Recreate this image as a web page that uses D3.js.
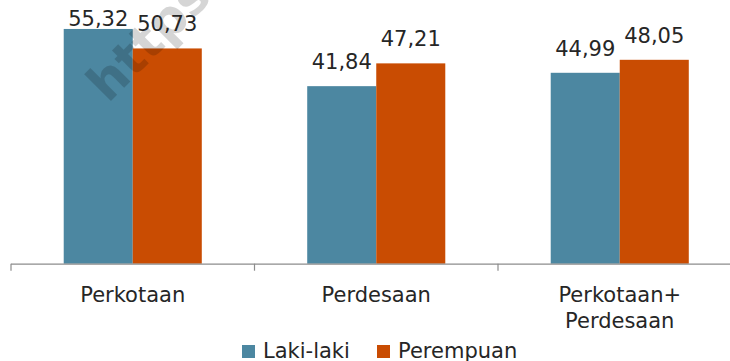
<!DOCTYPE html>
<html><head><meta charset="utf-8">
<script src="https://cdn.jsdelivr.net/npm/d3@7"></script>
<style>
html,body{margin:0;padding:0;background:#fff;overflow:hidden}
text{font-family:"DejaVu Sans",sans-serif;fill:#262626}
</style></head><body>
<svg id="c" width="730" height="361"></svg>
<script>
const categories = [["Perkotaan"], ["Perdesaan"], ["Perkotaan+", "Perdesaan"]];
const series = ["Laki-laki", "Perempuan"];
const lakiLaki = [55.32, 41.84, 44.99];
const perempuan = [50.73, 47.21, 48.05];
const colors = ["#4C87A1", "#C94C02"];

const values = [lakiLaki, perempuan];
const svg = d3.select("#c");
const baseY = 263.7;
const catKeys = categories.map(c => c.join(" "));

const x = d3.scaleBand().domain(catKeys).range([11, 741.5]).paddingInner(0.433).paddingOuter(0.2165);
const xs = d3.scaleBand().domain(series).range([0, x.bandwidth()]);
const y = d3.scaleLinear().domain([0, 60]).range([baseY, 9.1]);
const fmt = v => v.toFixed(2).replace(".", ",");

// bars
series.forEach((s, si) => {
  svg.append("g").selectAll("rect").data(values[si]).join("rect")
    .attr("x", (d, i) => x(catKeys[i]) + xs(s))
    .attr("y", d => y(d))
    .attr("width", xs.bandwidth())
    .attr("height", d => baseY - y(d))
    .attr("fill", colors[si]);
});

// watermark (partly outside the picture, as in the reference)
svg.append("text").text("https://www.bps.go.id")
  .attr("transform", "translate(108,104) rotate(-45)")
  .style("font-size", "50px").style("font-weight", "bold")
  .style("fill", "#000").style("opacity", 0.16);

// value labels
series.forEach((s, si) => {
  svg.append("g").selectAll("text").data(values[si]).join("text")
    .attr("x", (d, i) => x(catKeys[i]) + xs(s) + xs.bandwidth() / 2)
    .attr("y", d => Math.max(y(d) - 17, 26))
    .attr("text-anchor", "middle")
    .style("font-size", "21px")
    .text(d => fmt(d));
});

// axis
const step = x.step();
const axisG = svg.append("g");
axisG.append("line").attr("x1", 11).attr("x2", 741.5).attr("y1", baseY + 0.5).attr("y2", baseY + 0.5)
  .attr("stroke", "#8c8c8c").attr("stroke-width", 1.2);
const bounds = d3.range(categories.length + 1).map(i => 11 + i * step);
axisG.selectAll("line.t").data(bounds).join("line").attr("class", "t")
  .attr("x1", d => d).attr("x2", d => d).attr("y1", baseY).attr("y2", baseY + 7)
  .attr("stroke", "#8c8c8c").attr("stroke-width", 1.2);

categories.forEach((c, i) => {
  const t = svg.append("text").attr("text-anchor", "middle").style("font-size", "21px");
  c.forEach((line, li) => {
    t.append("tspan").attr("x", x(catKeys[i]) + x.bandwidth() / 2).attr("y", 302 + li * 25.5).text(line);
  });
});

// legend
const legX = [242, 377];
series.forEach((s, si) => {
  svg.append("rect").attr("x", legX[si]).attr("y", 345).attr("width", 13).attr("height", 13).attr("fill", colors[si]);
  svg.append("text").attr("x", legX[si] + 21).attr("y", 357.5).style("font-size", "21px").text(s);
});
</script>
</body></html>
